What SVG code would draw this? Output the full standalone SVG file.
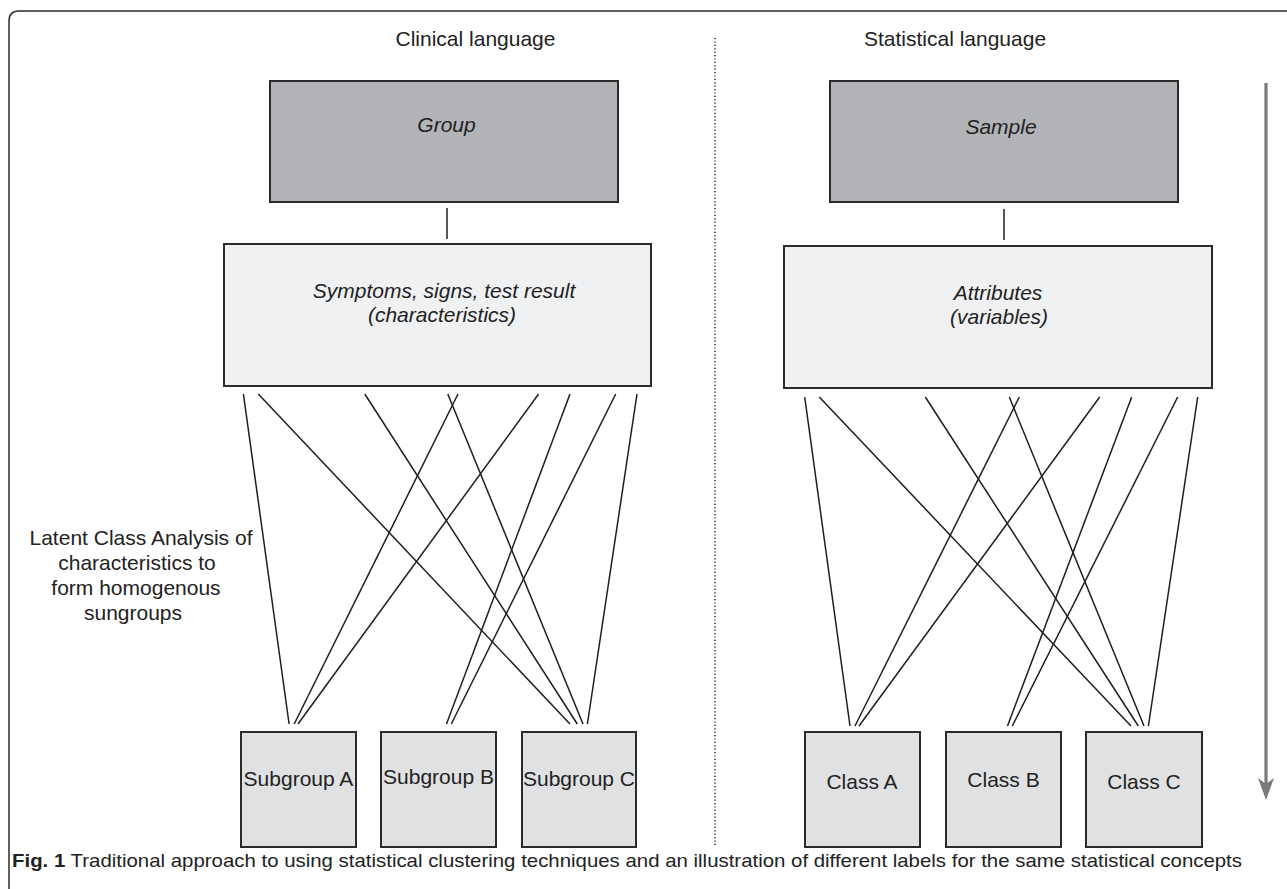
<svg xmlns="http://www.w3.org/2000/svg" width="1287" height="889" viewBox="0 0 1287 889">
<style>
.box{stroke:#2b2b2b;stroke-width:2}
.top{fill:#b3b4b7}
.mid{fill:#f0f1f3}
.leaf{fill:#e0e1e3}
.t{font-family:"Liberation Sans",Arial,sans-serif;font-size:21px;fill:#222;text-anchor:middle}
.it{font-style:italic}
.ln{stroke:#1e1e1e;stroke-width:1.5;fill:none}
</style>
<rect width="1287" height="889" fill="#fff"/>
<path d="M9 889 V21 Q9 11 19 11 H1287" fill="none" stroke="#2b2b2b" stroke-width="1.5"/>
<line x1="715" y1="38" x2="715" y2="846" stroke="#333" stroke-width="1.6" stroke-dasharray="1.2 2.2"/>
<text class="t" x="475.5" y="46">Clinical language</text>
<text class="t" x="955" y="46">Statistical language</text>
<text class="t" x="139"><tspan x="141" y="545">Latent Class Analysis of</tspan><tspan x="137" y="570">characteristics to</tspan><tspan x="136" y="595">form homogenous</tspan><tspan x="133" y="620">sungroups</tspan></text>
<g id="arrow">
<line x1="1266" y1="83" x2="1266" y2="784" stroke="#7a7a7a" stroke-width="3.2"/>
<path d="M1258 778 L1266 800 L1274 778 L1266 784 Z" fill="#7a7a7a"/>
</g>
<g id="group"><rect class="box top" x="270" y="81" width="348" height="121"/><text class="t it" x="446.5" y="132">Group</text></g>
<g id="symptoms"><rect class="box mid" x="224" y="244" width="427" height="142"/><text class="t it" x="443"><tspan x="444" y="298">Symptoms, signs, test result</tspan><tspan x="442" y="322">(characteristics)</tspan></text></g>
<g id="subgroupA"><rect class="box leaf" x="241" y="732" width="115" height="115"/><text class="t" x="298.5" y="786">Subgroup A</text></g>
<g id="subgroupB"><rect class="box leaf" x="381" y="732" width="115" height="115"/><text class="t" x="438.5" y="784">Subgroup B</text></g>
<g id="subgroupC"><rect class="box leaf" x="522" y="732" width="114" height="115"/><text class="t" x="579" y="786">Subgroup C</text></g>
<g id="sample"><rect class="box top" x="830" y="81" width="348" height="121"/><text class="t it" x="1001" y="134">Sample</text></g>
<g id="attributes"><rect class="box mid" x="784" y="246" width="428" height="142"/><text class="t it" x="998"><tspan x="998" y="300">Attributes</tspan><tspan x="999" y="324">(variables)</tspan></text></g>
<g id="classA"><rect class="box leaf" x="805" y="732" width="115" height="115"/><text class="t" x="862" y="789">Class A</text></g>
<g id="classB"><rect class="box leaf" x="946" y="732" width="115" height="115"/><text class="t" x="1003.5" y="787">Class B</text></g>
<g id="classC"><rect class="box leaf" x="1086" y="732" width="116" height="115"/><text class="t" x="1144" y="789">Class C</text></g>
<g id="connectors">
<line class="ln" x1="447" y1="208" x2="447" y2="239"/>
<line class="ln" x1="1004" y1="209" x2="1004" y2="240"/>
<line class="ln" x1="243.4" y1="394" x2="289.1" y2="724"/>
<line class="ln" x1="258.3" y1="394" x2="570" y2="724"/>
<line class="ln" x1="364.8" y1="394" x2="577.3" y2="724"/>
<line class="ln" x1="447.8" y1="394" x2="583" y2="724"/>
<line class="ln" x1="458" y1="394" x2="294.2" y2="724"/>
<line class="ln" x1="538.6" y1="394" x2="298" y2="724"/>
<line class="ln" x1="570" y1="394" x2="446.5" y2="724"/>
<line class="ln" x1="615.7" y1="394" x2="451.3" y2="724"/>
<line class="ln" x1="637" y1="394" x2="587.4" y2="724"/>
<line class="ln" x1="804.7" y1="397" x2="850" y2="726"/>
<line class="ln" x1="819.3" y1="397" x2="1131" y2="726"/>
<line class="ln" x1="925.3" y1="397" x2="1138.3" y2="726"/>
<line class="ln" x1="1009.3" y1="397" x2="1144" y2="726"/>
<line class="ln" x1="1019.3" y1="397" x2="855" y2="726"/>
<line class="ln" x1="1099.7" y1="397" x2="859" y2="726"/>
<line class="ln" x1="1131.7" y1="397" x2="1007.5" y2="726"/>
<line class="ln" x1="1177.7" y1="397" x2="1012.3" y2="726"/>
<line class="ln" x1="1197.7" y1="397" x2="1148.4" y2="726"/>
</g>
<text x="12" y="867" textLength="1230" lengthAdjust="spacingAndGlyphs" style="font-family:'Liberation Sans',Arial,sans-serif;font-size:19px;fill:#222"><tspan font-weight="bold">Fig. 1</tspan> Traditional approach to using statistical clustering techniques and an illustration of different labels for the same statistical concepts</text>
</svg>
